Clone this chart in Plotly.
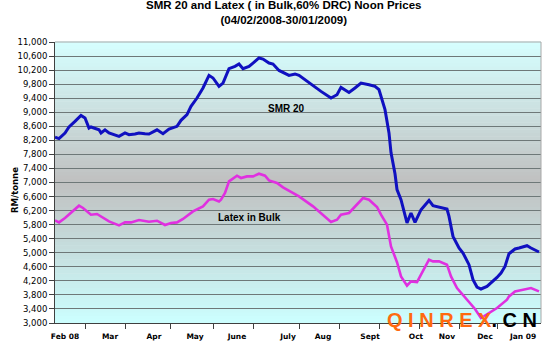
import plotly.graph_objects as go

# ---- data (trading-day index from 04/02/2008, price RM/tonne) ----
smr_days = [0, 2, 5, 7, 10, 12, 13, 15, 17, 18, 20, 22, 23, 25, 27, 30, 32, 35, 37, 40,
            42, 45, 47, 51, 54, 57, 61, 63, 66, 68, 71, 74, 77, 79, 82, 84, 87, 90, 92, 94,
            97, 99, 102, 104, 107, 109, 112, 117, 120, 122, 126, 131, 133, 138, 141, 143,
            147, 150, 153, 157, 160, 162, 163, 165, 167, 168, 170, 171, 173, 175, 176, 178,
            180, 183, 187, 189, 192, 196, 197, 199, 202, 204, 207, 209, 211, 213, 216, 218,
            221, 223, 225, 227, 230, 232, 236, 238, 242]
smr_values = [8290, 8250, 8410, 8580, 8740, 8865, 8910, 8836, 8550, 8580, 8540, 8500, 8410,
              8500, 8410, 8360, 8313, 8410, 8360, 8380, 8410, 8390, 8380, 8500, 8390, 8520,
              8600, 8770, 8930, 9170, 9405, 9690, 10050, 9975, 9737, 9830, 10240, 10306,
              10373, 10240, 10306, 10400, 10545, 10515, 10400, 10373, 10190, 10050, 10090,
              10050, 9880, 9670, 9594, 9405, 9500, 9708, 9565, 9690, 9830, 9784, 9737, 9642,
              9452, 9073, 8410, 7850, 7250, 6800, 6510, 6083, 5850, 6132, 5864, 6225, 6490,
              6340, 6302, 6245, 6035, 5466, 5135, 4993, 4660, 4233, 4025, 3968, 4042, 4139,
              4298, 4424, 4611, 4973, 5107, 5135, 5200, 5135, 5021]

latex_days = [0, 2, 5, 8, 10, 12, 14, 17, 18, 21, 24, 27, 32, 35, 38, 42, 47, 51, 55, 58,
              61, 64, 69, 74, 77, 79, 82, 83, 85, 87, 91, 93, 96, 99, 102, 105, 107, 111,
              114, 117, 122, 129, 134, 138, 141, 143, 147, 150, 154, 157, 161, 163, 166, 168,
              171, 173, 176, 178, 181, 183, 187, 189, 192, 196, 198, 201, 204, 207, 210, 213,
              216, 221, 226, 227, 230, 236, 238, 242]
latex_values = [5921, 5864, 5990, 6132, 6225, 6340, 6274, 6132, 6083, 6103, 5990, 5893, 5779,
                5864, 5864, 5932, 5884, 5912, 5790, 5847, 5864, 5961, 6178, 6320, 6510, 6530,
                6462, 6510, 6700, 7031, 7194, 7128, 7174, 7174, 7250, 7194, 7060, 6986, 6861,
                6767, 6604, 6320, 6083, 5875, 5941, 6083, 6132, 6320, 6559, 6510, 6302, 6083,
                5800, 5181, 4730, 4327, 4062, 4184, 4167, 4375, 4802, 4754, 4754, 4660, 4327,
                3996, 3806, 3615, 3400, 3142, 3250, 3427, 3663, 3757, 3900, 3968, 3996, 3900]

month_labels = ["Feb 08", "Mar", "Apr", "May", "June", "July", "Aug", "Sept", "Oct", "Nov",
                "Dec", "Jan 09"]
month_label_pos = [5, 27.5, 49.5, 70, 91, 116.5, 134, 157.5, 180.5, 196, 215, 234]
month_boundaries = [15, 35, 57.5, 79, 99, 122, 142, 162, 182, 202, 221]

fig = go.Figure()
fig.add_trace(go.Scatter(x=smr_days, y=smr_values, mode="lines", name="SMR 20",
                         line=dict(color="#1010C0", width=3)))
fig.add_trace(go.Scatter(x=latex_days, y=latex_values, mode="lines", name="Latex in Bulk",
                         line=dict(color="#E030E0", width=2.6)))

# background gradient bands (cyan -> grey -> cyan)
def mix(c1, c2, t):
    return "rgb(%d,%d,%d)" % tuple(round(a + (b - a) * t) for a, b in zip(c1, c2))

top_c, mid_c, bot_c = (214, 255, 255), (192, 192, 192), (204, 255, 255)
n = 80
shapes = []
for k in range(n):
    f0, f1 = k / n, (k + 1) / n
    fc = (f0 + f1) / 2
    if fc > 0.5:
        col = mix(mid_c, top_c, (fc - 0.5) / 0.5)
    else:
        col = mix(bot_c, mid_c, fc / 0.5)
    shapes.append(dict(type="rect", xref="paper", yref="paper", x0=0, x1=1, y0=f0, y1=f1 + 0.002,
                       fillcolor=col, line=dict(width=0), layer="below"))
shapes.append(dict(type="line", xref="paper", yref="paper", x0=0, x1=1, y0=1, y1=1,
                   line=dict(color="#A8A8A8", width=1)))
shapes.append(dict(type="line", xref="paper", yref="paper", x0=1, x1=1, y0=0, y1=1,
                   line=dict(color="#A8A8A8", width=1)))

fig.update_layout(
    width=553, height=345,
    margin=dict(l=55, r=12, t=42, b=22),
    paper_bgcolor="white", plot_bgcolor="white",
    showlegend=False,
    shapes=shapes,
    font=dict(family="DejaVu Sans", color="black"),
    xaxis=dict(range=[0, 243], tickmode="array", tickvals=month_label_pos, ticktext=month_labels,
               ticks="", showgrid=False, zeroline=False, showline=True, linecolor="#404040",
               linewidth=1, tickfont=dict(family="DejaVu Sans", size=7.5, weight="bold"),
               ticklabelstandoff=6, automargin=False,
               minor=dict(tickmode="array", tickvals=month_boundaries, ticks="outside",
                          ticklen=5, tickcolor="#404040", showgrid=False)),
    yaxis=dict(range=[3000, 11000], tickmode="linear", tick0=3000, dtick=400, tickformat=",d",
               showgrid=True, gridcolor="#6E7878", gridwidth=1, zeroline=False,
               showline=True, linecolor="#404040", linewidth=1, ticks="outside", ticklen=5,
               tickcolor="#404040", tickfont=dict(family="DejaVu Sans", size=8.5),
               automargin=False),
    annotations=[
        dict(text="<b>SMR 20 and Latex ( in Bulk,60% DRC) Noon Prices<br>(04/02/2008-30/01/2009)</b>",
             xref="paper", yref="paper", x=0.471, y=1.105, showarrow=False, yanchor="middle",
             font=dict(family="Liberation Sans", size=11.5)),
        dict(text="<b>RM/tonne</b>", xref="paper", yref="paper", x=-0.097, y=0.473,
             textangle=-90, showarrow=False, font=dict(family="DejaVu Sans", size=8.5)),
        dict(text="<b>SMR 20</b>", xref="paper", yref="paper", x=0.477, y=0.79,
             showarrow=False, font=dict(family="Liberation Sans", size=10)),
        dict(text="<b>Latex in Bulk</b>", xref="paper", yref="paper", x=0.401, y=0.377,
             showarrow=False, font=dict(family="Liberation Sans", size=10)),
        dict(text="<b>Q I N R E X<span style='color:#000000'>. C N</span></b>", xref="paper",
             yref="paper", x=0.679, y=0.012, xanchor="left", yanchor="middle", showarrow=False,
             font=dict(family="Liberation Sans", size=20, color="#FF6A10")),
    ],
)

fig.write_html("out.html")
